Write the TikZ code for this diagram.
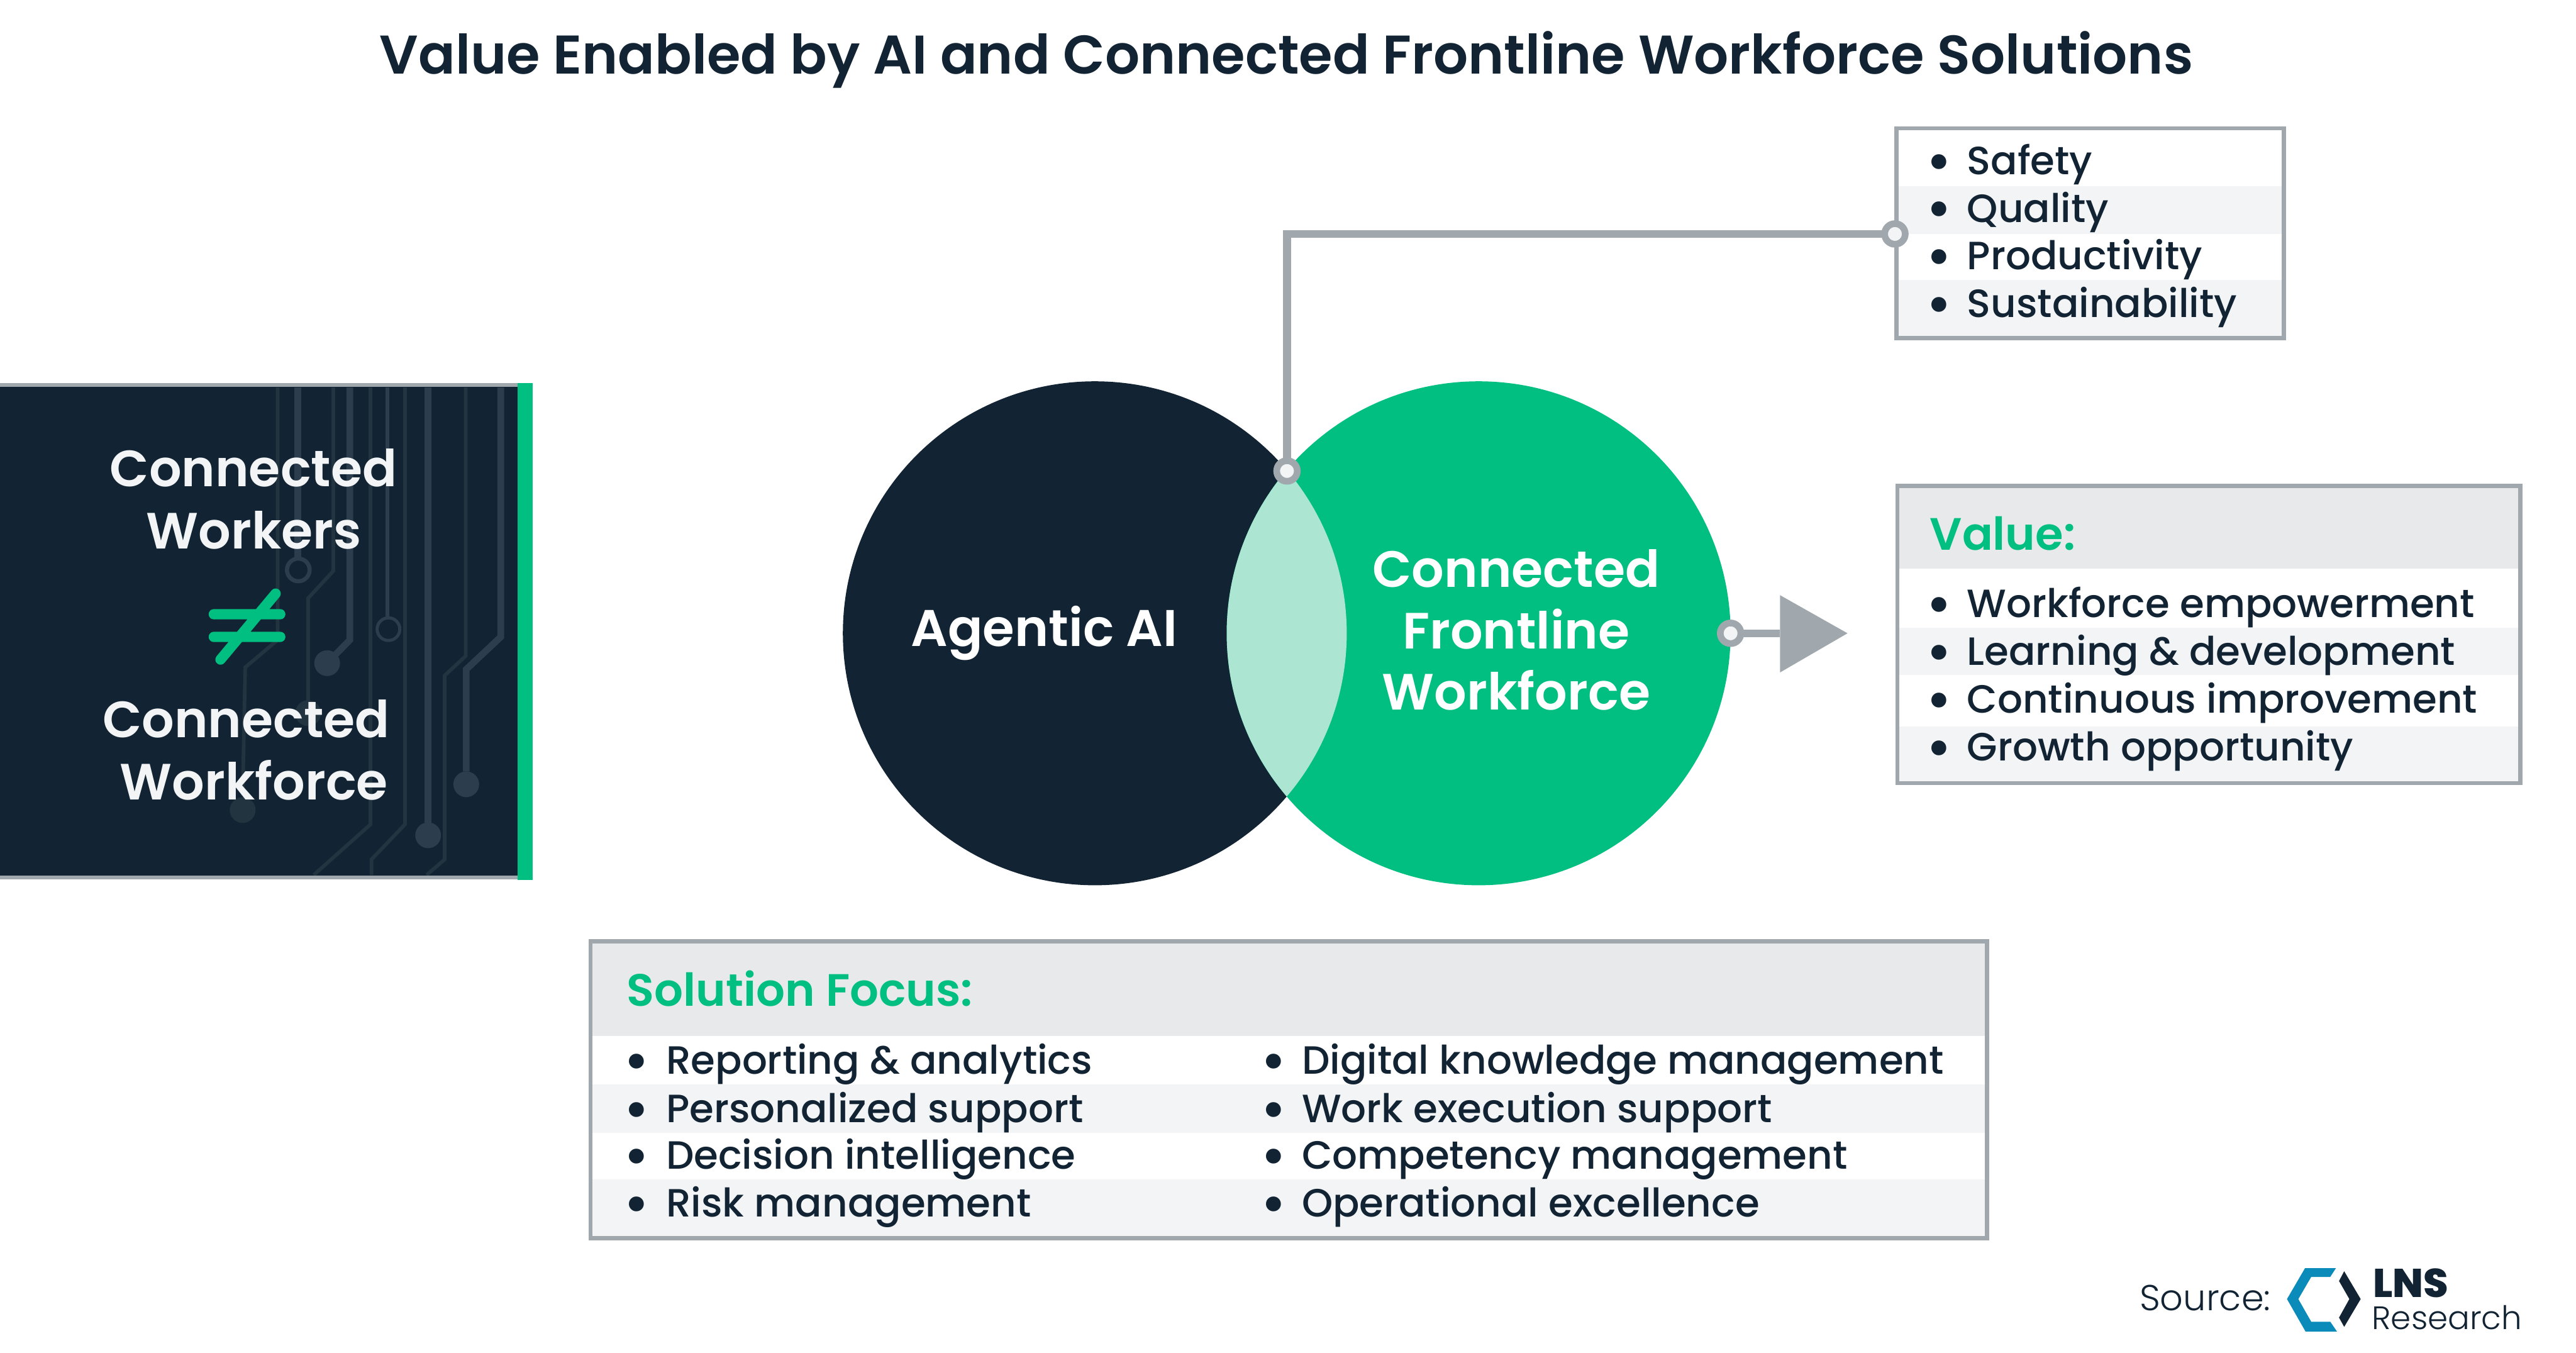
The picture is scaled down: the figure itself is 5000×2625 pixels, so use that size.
\documentclass[tikz,border=0pt]{standalone}
\usepackage{fontspec}
\setmainfont{Poppins}
\newfontfamily\fmed{Poppins Medium}
\newfontfamily\fsemi{Poppins SemiBold}
\newfontfamily\flight{Poppins Light}
\newfontfamily\fheavy{Poppins ExtraBold}
\definecolor{navy}{HTML}{122433}
\definecolor{lnsgreen}{HTML}{00BF80}
\definecolor{lens}{HTML}{ACE5D2}
\definecolor{grayline}{HTML}{A0A8AE}
\definecolor{headgray}{HTML}{E7E9EB}
\definecolor{stripe}{HTML}{F2F4F6}
\definecolor{trace}{HTML}{2C3E4D}
\definecolor{tracedim}{HTML}{22343F}
\definecolor{logoblue}{HTML}{0A8BBA}
\newcommand{\fs}[1]{\fontsize{#1pt}{#1pt}\selectfont}
\tikzset{
 every node/.style={inner sep=0pt,outer sep=0pt},
 lbl/.style={anchor=base west,text=navy,font=\fmed\fs{76.5}},
 blt/.style={anchor=base,text=navy,font=\fmed\fs{110},yshift=-12pt},
 head/.style={anchor=base west,text=lnsgreen,font=\fsemi\fs{88}},
 big/.style={anchor=base,text=stripe,font=\fsemi\fs{99}},
 tr/.style={draw=trace,line width=13pt,line join=miter},
 trt/.style={draw=trace,line width=7pt},
 trd/.style={draw=tracedim,line width=7pt},
 conn/.style={draw=grayline,line width=15pt},
 ring/.style={circle,draw=grayline,line width=13pt,fill=stripe,minimum size=40pt},
 boxline/.style={draw=grayline,line width=8pt},
}
\begin{document}
\begin{tikzpicture}[x=1pt,y=-1pt]
\useasboundingbox (0,0) rectangle (5000,2625);
\fill[white] (0,0) rectangle (5000,2625);
\node[anchor=base,text=navy,font=\fsemi\fs{105.7}] (title) at (2497,143) {Value Enabled by AI and Connected Frontline Workforce Solutions};
% left panel
\fill[navy] (0,747) rectangle (1005,1703);
\draw[trd] (539,752) -- (539,1242) -- (476,1295) -- (471,1544);
\fill[tracedim] (471,1572) circle (25);
\draw[tr] (578,752) -- (578,1085);
\draw[trace,line width=8pt] (579,1106) circle (22);
\draw[trd] (647,752) -- (647,1108) -- (598,1161) -- (598,1384);
\fill[tracedim] (598,1384) circle (25);
\draw[tr] (679,752) -- (679,1242) -- (635,1287);
\fill[trace] (635,1287) circle (25);
\draw[trd] (719,752) -- (719,1600) -- (609,1698);
\draw[trt] (752,752) -- (752,1199);
\draw[trace,line width=6pt] (754,1221) circle (22);
\draw[trd] (786,752) -- (786,1600) -- (721,1668) -- (721,1698);
\draw[tr] (831,752) -- (831,1597);
\fill[trace] (831,1621) circle (25);
\draw[trd] (904,752) -- (904,1273) -- (863,1311) -- (863,1668) -- (828,1698);
\draw[tr] (972,752) -- (972,1236) -- (905,1299) -- (905,1497);
\fill[trace] (905,1522) circle (25);
\draw[grayline,line width=8pt] (0,747) -- (1005,747) (0,1703) -- (1005,1703);
\fill[lnsgreen] (1005,743) rectangle (1034,1708);
\node[big] (w1) at (492,944) {Connected};
\node[big] (w2) at (493,1065) {Workers};
\node[big] (w3) at (478,1431) {Connected};
\node[big] (w4) at (493,1552) {Workforce};
\draw[lnsgreen,line width=20pt,line cap=round] (415,1192) -- (544,1192) (415,1236) -- (544,1236) (535,1152) -- (428,1280);
% venn
\fill[navy] (2125,1229) circle (489);
\fill[lnsgreen] (2870,1229) circle (489);
\begin{scope}
\clip (2125,1229) circle (489);
\fill[lens] (2870,1229) circle (489);
\end{scope}
\node[anchor=base,text=white,font=\fsemi\fs{100}] (ai) at (2027,1254) {Agentic AI};
\node[anchor=base,text=white,font=\fsemi\fs{99}] (c1) at (2943,1140) {Connected};
\node[anchor=base,text=white,font=\fsemi\fs{99}] (c2) at (2943,1259) {Frontline};
\node[anchor=base,text=white,font=\fsemi\fs{99}] (c3) at (2943,1378) {Workforce};
% safety box
\fill[white] (3681,249) rectangle (4433,361);
\fill[stripe] (3681,361) rectangle (4433,454);
\fill[white] (3681,454) rectangle (4433,543);
\fill[stripe] (3681,543) rectangle (4433,656);
\draw[boxline] (3681,249) rectangle (4433,656);
\foreach \y/\t in {339/Safety,431/Quality,523/Productivity,616/Sustainability}{
  \node[blt] at (3764,\y) {•};
  \node[lbl] at (3818,\y) {\t};
}
% connector
\coordinate (jn) at (2498,914);
\coordinate (sb) at (3678,454);
\draw[conn] (jn) -- (2498,454) -- (sb);
\node[ring] (r1) at (jn) {};
\node[ring] (r2) at (sb) {};
% value box
\fill[headgray] (3683,943) rectangle (4892,1104);
\fill[white] (3683,1104) rectangle (4892,1218);
\fill[stripe] (3683,1218) rectangle (4892,1310);
\fill[white] (3683,1310) rectangle (4892,1410);
\fill[stripe] (3683,1410) rectangle (4892,1520);
\draw[boxline] (3683,943) rectangle (4892,1520);
\node[head] at (3746,1068) {Value:};
\foreach \y/\t in {1198/Workforce empowerment,1291/Learning \& development,1384/Continuous improvement,1477/Growth opportunity}{
  \node[blt] at (3764,\y) {•};
  \node[lbl] at (3818,\y) {\t};
}
% arrow
\coordinate (ar) at (3359,1229);
\coordinate (at) at (3455,1229);
\draw[conn] (ar) -- (at);
\fill[grayline] (3455,1155) -- (3586,1229) -- (3455,1305) -- cycle;
\node[ring] (r3) at (ar) {};
% solution box
\fill[headgray] (1146,1827) rectangle (3857,2011);
\fill[white] (1146,2011) rectangle (3857,2104);
\fill[stripe] (1146,2104) rectangle (3857,2198);
\fill[white] (1146,2198) rectangle (3857,2289);
\fill[stripe] (1146,2289) rectangle (3857,2403);
\draw[boxline] (1146,1827) rectangle (3857,2403);
\node[head] at (1217,1953) {Solution Focus:};
\foreach \y/\a/\b in {2084/Reporting \& analytics/Digital knowledge management,2178/Personalized support/Work execution support,2269/Decision intelligence/Competency management,2362/Risk management/Operational excellence}{
  \node[blt] at (1236,\y) {•};
  \node[lbl] at (1293,\y) {\a};
  \node[blt] at (2472,\y) {•};
  \node[lbl] at (2527,\y) {\b};
}
% source
\node[anchor=base west,text=navy,font=\flight\fs{70}] (src) at (4153,2543) {Source:};
\fill[logoblue] (4534,2461) -- (4474,2461) -- (4439,2521) -- (4475,2584) -- (4536,2584) -- (4523,2565) -- (4486,2565) -- (4461,2521) -- (4486,2478) -- (4523,2478) -- cycle;
\fill[navy] (4550,2467) -- (4582,2521) -- (4550,2575) -- (4540,2557) -- (4560,2521) -- (4540,2486) -- cycle;
\node[anchor=base west,text=navy,font=\fheavy\fs{78}] (lns) at (4606,2518) {LNS};
\node[anchor=base west,text=navy,font=\flight\fs{63}] (res) at (4604,2580) {Research};
\end{tikzpicture}
\end{document}
